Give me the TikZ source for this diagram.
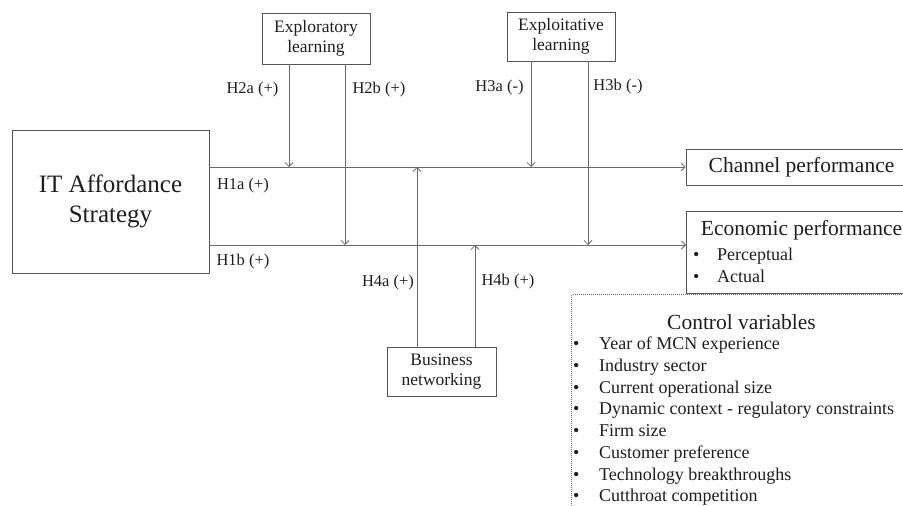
\documentclass[tikz,border=0pt]{standalone}
\usepackage{fontspec}
\setmainfont{Liberation Serif}
\usepackage{tikz}
\usetikzlibrary{arrows.meta}
\definecolor{linegray}{HTML}{6A6A6A}
\definecolor{boxgray}{HTML}{555555}
\definecolor{textdark}{HTML}{1E1E1E}

\begin{document}
\begin{tikzpicture}[x=1pt,y=-1pt,
    box/.style={draw=boxgray, line width=0.8pt, align=center, inner sep=0pt, text=textdark},
    arr/.style={draw=linegray, line width=0.8pt, -{Straight Barb[length=4pt,width=8pt]}},
    hyp/.style={font=\fontsize{16.5}{19}\selectfont, text=textdark},
    midfont/.style={font=\fontsize{17.5}{20}\selectfont},
    bigfont/.style={font=\fontsize{21.5}{24}\selectfont}]
    \useasboundingbox (0,0) rectangle (903,506);

    % Boxes
    \node[box, minimum width=197pt, minimum height=143pt, font=\fontsize{25}{30}\selectfont] (itas) at (110.5,201.5) {IT Affordance\\Strategy};
    \node[box, minimum width=108pt, minimum height=51pt, midfont] (explo) at (316,38.5) {Exploratory\\learning};
    \node[box, minimum width=108pt, minimum height=49pt, midfont] (exploit) at (561,36.5) {Exploitative\\learning};
    \node[box, minimum width=109pt, minimum height=49pt, midfont] (busnet) at (441.5,371.5) {Business\\networking};
    \node[box, minimum width=231pt, minimum height=36pt, bigfont] (chan) at (801.5,167) {Channel performance};
    \node[box, minimum width=231pt, minimum height=82pt] (econ) at (801.5,252) {};
    \node[bigfont, text=textdark] (econtitle) at (801.5,230) {Economic performance};
    \node[anchor=north west, align=left, inner sep=0pt, font=\fontsize{18}{22}\selectfont, text=textdark] (econlist) at (693,247.5)
        {\makebox[24pt][l]{\textbullet}Perceptual\\\makebox[24pt][l]{\textbullet}Actual};

    % Control variables
    \node[draw=linegray, line width=1pt, dash pattern=on 1pt off 1pt, anchor=north west, minimum width=340pt, minimum height=220pt] (ctrl) at (571,294) {};
    \node[bigfont, text=textdark] (ctrltitle) at (741.5,322) {Control variables};
    \node[anchor=north west, align=left, inner sep=0pt, font=\fontsize{18}{21.7}\selectfont, text=textdark] (ctrllist) at (573,337)
        {\makebox[26pt][l]{\textbullet}Year of MCN experience\\
         \makebox[26pt][l]{\textbullet}Industry sector\\
         \makebox[26pt][l]{\textbullet}Current operational size\\
         \makebox[26pt][l]{\textbullet}Dynamic context - regulatory constraints\\
         \makebox[26pt][l]{\textbullet}Firm size\\
         \makebox[26pt][l]{\textbullet}Customer preference\\
         \makebox[26pt][l]{\textbullet}Technology breakthroughs\\
         \makebox[26pt][l]{\textbullet}Cutthroat competition};

    % Main paths
    \coordinate (econin) at (686,245);
    \draw[arr] (itas.east |- chan.west) -- (chan.west);
    \draw[arr] (itas.east |- econin) -- (econin);

    % Moderators
    \coordinate (h2a) at (289,167);
    \coordinate (h2b) at (345,245);
    \coordinate (h3a) at (531,167);
    \coordinate (h3b) at (588,245);
    \coordinate (h4a) at (417,167);
    \coordinate (h4b) at (475,245);
    \draw[arr] (explo.south -| h2a) -- (h2a);
    \draw[arr] (explo.south -| h2b) -- (h2b);
    \draw[arr] (exploit.south -| h3a) -- (h3a);
    \draw[arr] (exploit.south -| h3b) -- (h3b);
    \draw[arr] (busnet.north -| h4a) -- (h4a);
    \draw[arr] (busnet.north -| h4b) -- (h4b);

    % Hypothesis labels
    \node[hyp] (l1a) at (243,186) {H1a (+)};
    \node[hyp] (l1b) at (243,262) {H1b (+)};
    \node[hyp] (l2a) at (252.5,90) {H2a (+)};
    \node[hyp] (l2b) at (379,90) {H2b (+)};
    \node[hyp] (l3a) at (499.5,88) {H3a (-)};
    \node[hyp] (l3b) at (618,87) {H3b (-)};
    \node[hyp] (l4a) at (388,283) {H4a (+)};
    \node[hyp] (l4b) at (508,282) {H4b (+)};
\end{tikzpicture}
\end{document}
